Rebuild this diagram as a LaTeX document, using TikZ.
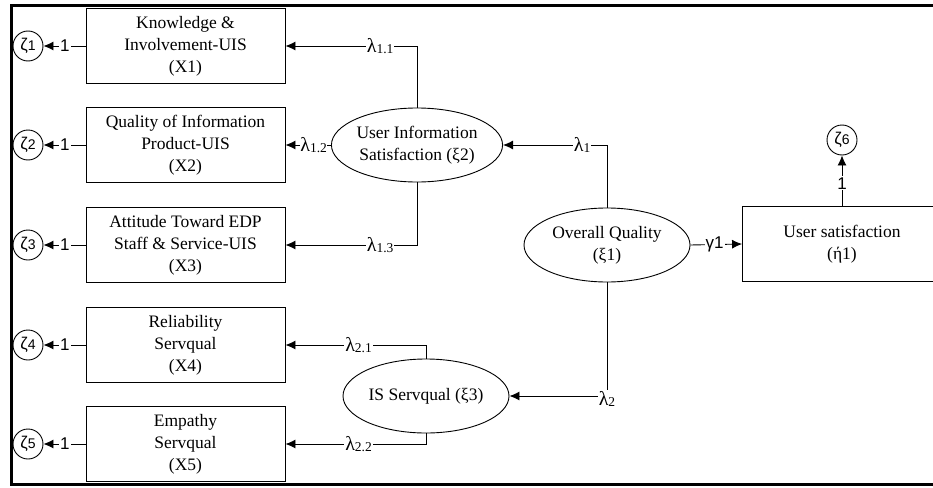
\documentclass[tikz,border=0pt]{standalone}
\usepackage{fontspec}
\setmainfont{Liberation Serif}
\newfontfamily\sansf{Liberation Sans}
\usetikzlibrary{arrows.meta, positioning, shapes.geometric}
\newcommand{\lam}[1]{λ\raisebox{-1.5pt}{\fontsize{13.5}{13.5}\selectfont #1}}
\newcommand{\zet}[1]{{\sansf ζ\fontsize{14}{14}\selectfont #1}}

\begin{document}
\begin{tikzpicture}[
  x=1pt, y=-1pt,
  font=\fontsize{17.5}{22}\selectfont,
  obs/.style={draw, line width=0.9pt, align=center, minimum width=199pt,
              minimum height=75pt, inner sep=2pt},
  lat/.style={draw, line width=0.9pt, ellipse, align=center, minimum width=166pt,
              minimum height=74pt, inner sep=0pt},
  err/.style={draw, line width=0.9pt, circle, minimum size=30pt, inner sep=0pt,
              font=\fontsize{17}{17}\selectfont},
  a/.style={-{Latex[length=10pt, width=9pt]}, line width=0.9pt},
  lbl/.style={fill=white, inner sep=1pt, font=\fontsize{20}{20}\selectfont},
  one/.style={fill=white, inner sep=1pt, font=\sansf\fontsize{17}{17}\selectfont}
]
\useasboundingbox (0,0) rectangle (933,487);
\clip (0,0) rectangle (933,487);

% ---------- outer frame ----------
\draw[line width=3pt] (11.5,6) rectangle (960,484);

% ---------- observed indicators ----------
\node[obs] (x1) at (185.5,46)  {Knowledge \&\\Involvement-UIS\\(X1)};
\node[obs] (x2) at (185.5,145) {Quality of Information\\Product-UIS\\(X2)};
\node[obs] (x3) at (185.5,245) {Attitude Toward EDP\\Staff \& Service-UIS\\(X3)};
\node[obs] (x4) at (185.5,345) {Reliability\\Servqual\\(X4)};
\node[obs] (x5) at (185.5,444) {Empathy\\Servqual\\(X5)};
\node[obs] (us) at (842,244)   {User satisfaction\\(ή1)};

% ---------- error terms ----------
\foreach \i/\y in {1/46,2/145,3/245,4/345,5/444}
  {\node[err] (z\i) at (28,\y) {\zet{\i}};
   \draw[a] (x\i.west) -- node[one, pos=0.49] {1} (z\i);}
\node[err] (z6) at (842,140) {\zet{6}};
\draw[a] (us.north) -- node[one, pos=0.45] {1} (z6);

% ---------- latent variables ----------
\node[lat] (uis) at (417,145) {User Information\\Satisfaction (ξ2)};
\node[lat] (oq)  at (607,245) {Overall Quality\\(ξ1)};
\node[lat] (isq) at (426,396) {IS Servqual (ξ3)};

% ---------- loadings ----------
\draw[a] (uis.north) |- node[lbl, pos=0.64] {\lam{1.1}} (x1.east);
\draw[a] (uis.west)  -- node[lbl, pos=0.38, inner sep=0pt] {\lam{1.2}} (x2.east);
\draw[a] (uis.south) |- node[lbl, pos=0.64] {\lam{1.3}} (x3.east);
\draw[a] (isq.north) |- node[lbl, pos=0.74] {\lam{2.1}} (x4.east);
\draw[a] (isq.south) |- node[lbl, pos=0.74] {\lam{2.2}} (x5.east);
\draw[a] (oq.north)  |- node[lbl, pos=0.62] {\lam{1}} (uis.east);
\draw[a] (oq.south)  |- node[lbl, pos=0.5, yshift=-3pt] {\lam{2}} (isq.east);
\draw[a] (oq.east)   -- node[one, pos=0.47] {γ1} (us.west);

\end{tikzpicture}
\end{document}
